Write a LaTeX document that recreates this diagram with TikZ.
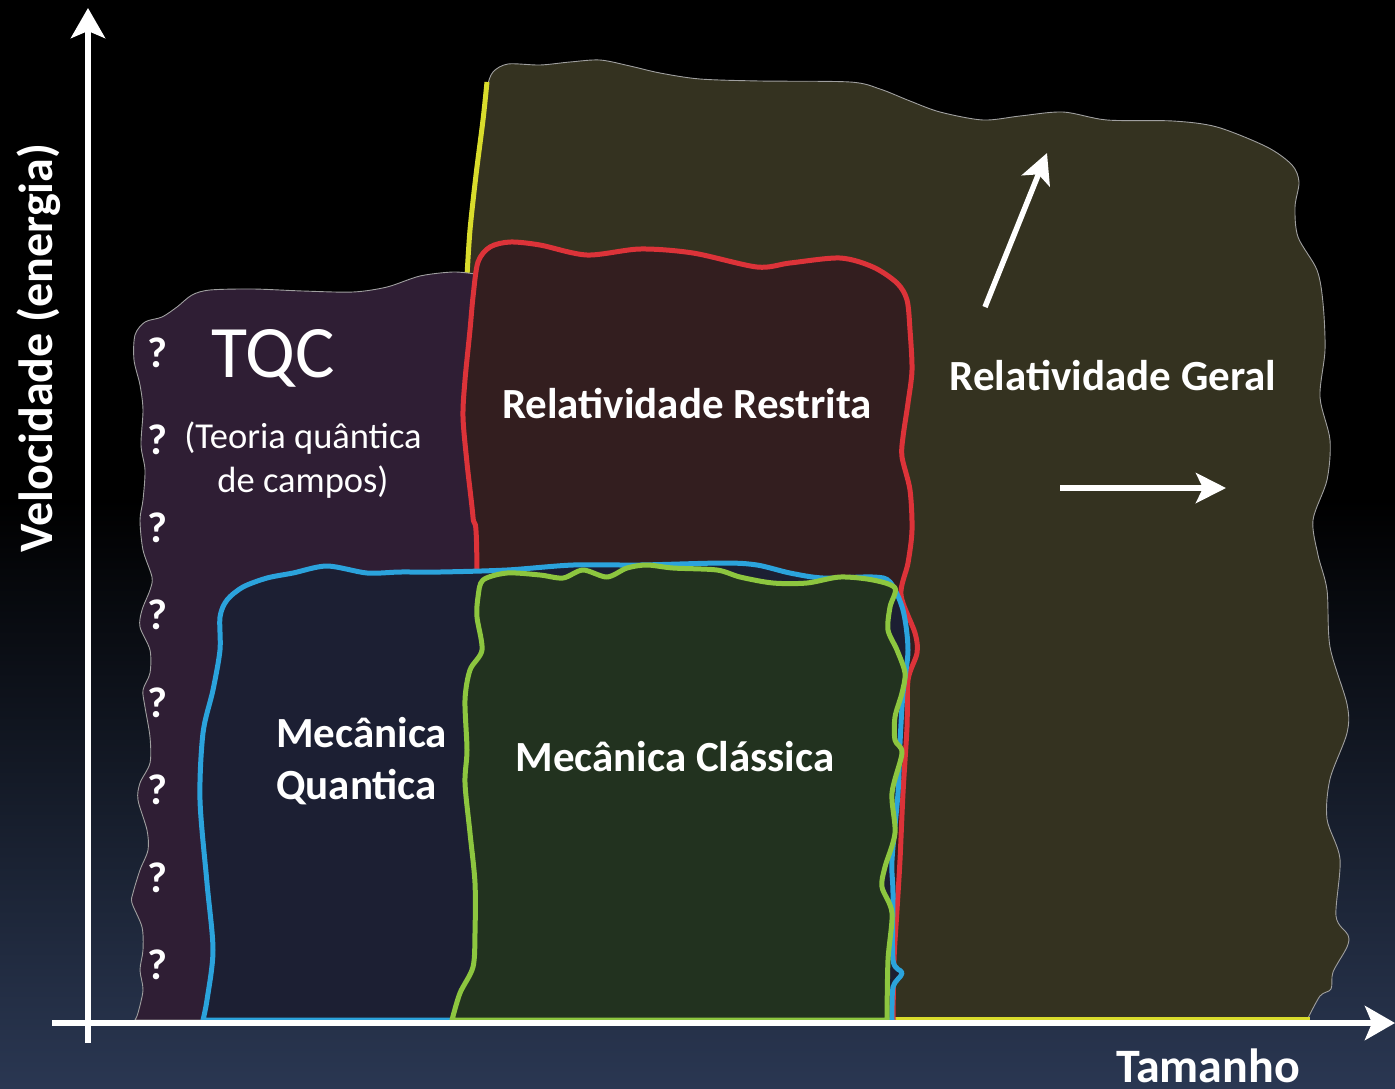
\documentclass[tikz,border=0pt]{standalone}
\usepackage{fontspec}
\setmainfont{Carlito}
\usetikzlibrary{arrows.meta}

\definecolor{bgblue}{HTML}{2A3752}
\definecolor{rgfill}{HTML}{343220}
\definecolor{tqcfill}{HTML}{2F1E34}
\definecolor{rrfill}{HTML}{331E1F}
\definecolor{mqfill}{HTML}{1C1F33}
\definecolor{mcfill}{HTML}{22321F}
\definecolor{rrline}{HTML}{DC3339}
\definecolor{mqline}{HTML}{2BA3DC}
\definecolor{mcline}{HTML}{8DC63F}
\definecolor{rgline}{HTML}{D9DC2C}

\tikzset{
  region/.style={line width=5pt, line join=round},
  thinedge/.style={line width=0.9pt, draw=gray!75},
  lbl/.style={text=white, inner sep=0pt, font=\fontsize{43}{52}\selectfont\bfseries},
  qmark/.style={text=white, inner sep=0pt, font=\fontsize{43}{50}\selectfont\bfseries},
  axis/.style={white, line width=6.5pt, -{Stealth[length=30pt, width=34pt, inset=7pt]}},
  bigarrow/.style={white, line width=5.5pt, -{Stealth[length=30pt, width=30pt, inset=7pt]}}
}

\begin{document}
\begin{tikzpicture}[x=1pt, y=-1pt]
        \useasboundingbox (0,0) rectangle (1395,1088);

        % background
        \fill[black] (0,0) rectangle (1395,500);
        \shade[top color=black, bottom color=bgblue] (0,499) rectangle (1395,1088);

        % Relatividade Geral
        \filldraw[fill=rgfill, thinedge] plot[smooth] coordinates {(466,1020) (466,600) (467,275) (470,230) (476,175) (483,120) (487,88) (493,72) (508,64) (540,65) (570,62) (600,60) (630,66) (660,73) (700,79) (760,81) (850,82) (880,89) (910,101) (940,112) (983,120) (1020,116) (1063,112) (1107,120) (1173,121) (1217,127) (1267,147) (1292,165) (1299,182) (1295,207) (1298,237) (1317,270) (1323,303) (1325,350) (1320,397) (1330,440) (1327,480) (1313,520) (1318,555) (1327,590) (1330,647) (1347,704) (1347,733) (1330,779) (1327,819) (1340,859) (1336,916) (1348,935) (1347,947) (1333,972) (1331,989) (1320,996) (1307,1020)} -- cycle;
        \draw[line width=5pt, rgline] plot[smooth] coordinates {(467,276) (470,230) (476,175) (483,120) (487,82)};
        \draw[line width=5pt, rgline] (890,1019) -- (1310,1019);

        % TQC
        \filldraw[fill=tqcfill, thinedge] plot[smooth] coordinates {(135,1020) (138,1013) (143,990) (140,970) (143,950) (142,927) (132,903) (133,893) (140,870) (148,850) (147,830) (138,800) (140,783) (150,763) (150,737) (145,707) (143,690) (150,673) (150,650) (140,627) (142,610) (150,590) (152,577) (143,550) (140,520) (143,500) (145,470) (141,445) (143,410) (140,385) (134,360) (135,335) (145,322) (162,317) (177,307) (192,295) (210,290) (253,289) (303,291) (353,292) (387,287) (420,276) (453,272) (475,274)} -- (480,1020) -- cycle;

        % Relatividade Restrita
        \filldraw[region, fill=rrfill, draw=rrline] plot[smooth] coordinates {(477,1020) (477,573) (473,517) (467,463) (463,417) (465,380) (470,330) (473,297) (478,262) (490,247) (510,242) (540,245) (587,255) (640,249) (693,253) (757,267) (790,263) (840,258) (873,267) (897,283) (907,300) (910,330) (912,370) (908,403) (903,437) (902,457) (910,490) (912,530) (908,563) (901,595) (915,633) (917,653) (908,680) (907,727) (903,793) (900,860) (897,910) (894,960) (893,1020)} -- cycle;

        % Mecanica Quantica
        \filldraw[region, fill=mqfill, draw=mqline] plot[smooth] coordinates {(203,1020) (207,1000) (213,950) (207,883) (200,800) (203,733) (213,690) (220,650) (220,617) (227,600) (243,587) (267,578) (293,573) (327,566) (367,573) (400,572) (440,572) (507,570) (573,565) (640,565) (723,563) (757,565) (790,573) (823,578) (873,577) (890,582) (903,610) (908,650) (903,693) (900,743) (898,793) (892,860) (893,893) (893,960) (902,973) (893,987) (892,1020)} -- cycle;

        % Mecanica Classica
        \filldraw[region, fill=mcfill, draw=mcline] plot[smooth] coordinates {(452,1020) (460,993) (473,967) (475,933) (475,883) (470,833) (465,783) (467,750) (465,700) (470,670) (482,650) (477,617) (478,597) (483,580) (507,573) (540,575) (563,578) (583,570) (607,577) (627,568) (647,565) (673,568) (717,570) (740,577) (773,583) (807,583) (840,577) (873,580) (895,588) (890,607) (888,630) (897,650) (905,673) (902,693) (895,717) (895,740) (902,753) (892,793) (895,833) (885,867) (882,887) (892,913) (888,960) (887,1020)} -- cycle;

        % labels
        \node[text=white, inner sep=0pt, anchor=base, font=\fontsize{74}{80}\selectfont] (tqc) at (273,377) {TQC};
        \node[text=white, inner sep=0pt, align=center, font=\fontsize{36.5}{44}\selectfont] (tqcname) at (303,460) {(Teoria quântica\\de campos)};
        \node[lbl, anchor=base] (rrname) at (687,418) {Relatividade Restrita};
        \node[lbl, anchor=base] (rgname) at (1113,390) {Relatividade Geral};
        \node[lbl, anchor=base west, align=left] (mqname) at (276,799) {Mecânica\\Quantica};
        \node[lbl, anchor=base] (mcname) at (675,771) {Mecânica Clássica};

        % question marks
        \node[qmark] (q1) at (157,353) {?};
        \node[qmark] (q2) at (157,440) {?};
        \node[qmark] (q3) at (157,528) {?};
        \node[qmark] (q4) at (157,615) {?};
        \node[qmark] (q5) at (157,703) {?};
        \node[qmark] (q6) at (157,790) {?};
        \node[qmark] (q7) at (157,878) {?};
        \node[qmark] (q8) at (157,965) {?};

        % arrows in Relatividade Geral
        \coordinate (up0) at (985,307);
        \coordinate (up1) at (1047,153);
        \coordinate (rt0) at (1060,488);
        \coordinate (rt1) at (1226,488);
        \draw[bigarrow] (up0) -- (up1);
        \draw[bigarrow] (rt0) -- (rt1);

        % axes
        \coordinate (ybot) at (88,1043);
        \coordinate (ytop) at (88,8);
        \coordinate (xleft) at (52,1023);
        \coordinate (xright) at (1395,1023);
        \draw[axis] (ybot) -- (ytop);
        \draw[axis] (xleft) -- (xright);
        \node[text=white, inner sep=0pt, anchor=base, rotate=90, font=\fontsize{48}{56}\selectfont\bfseries] (ylabel) at (52,348) {Velocidade (energia)};
        \node[text=white, inner sep=0pt, anchor=base, font=\fontsize{48}{56}\selectfont\bfseries] (xlabel) at (1208,1082) {Tamanho};
\end{tikzpicture}
\end{document}
